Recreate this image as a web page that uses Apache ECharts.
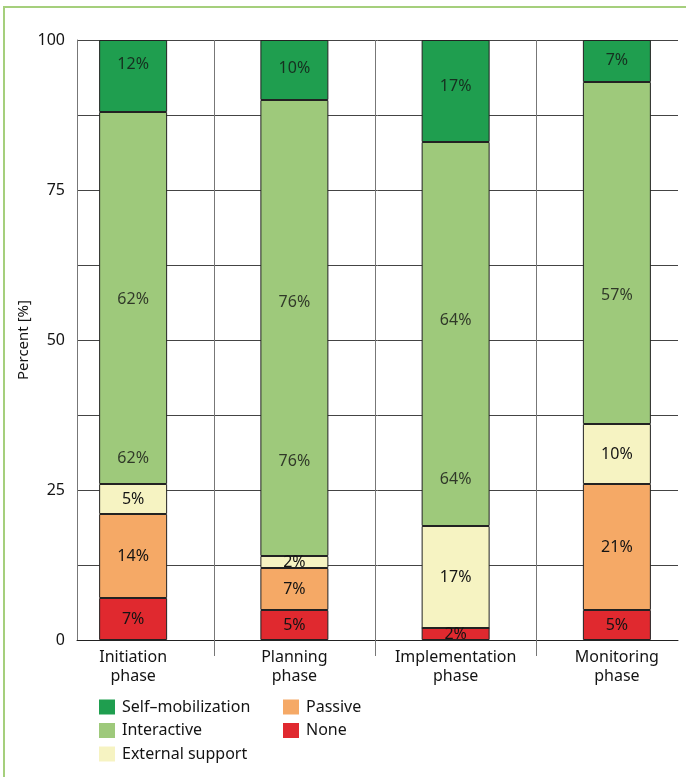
<!DOCTYPE html>
<html><head><meta charset="utf-8">
<script src="https://cdn.jsdelivr.net/npm/echarts@6/dist/echarts.min.js"></script>
<style>html,body{margin:0;padding:0;background:#fff}#c{width:686px;height:777px}</style>
</head><body><div id="c"></div>
<script>
const categories = ['Initiation\nphase', 'Planning\nphase', 'Implementation\nphase', 'Monitoring\nphase'];
const noneVals = [7, 5, 2, 5];
const passiveVals = [14, 7, 0, 21];
const externalVals = [5, 2, 17, 10];
const interactiveVals = [62, 76, 64, 57];
const selfVals = [12, 10, 17, 7];
// where the interactive and self-mobilization percentage labels sit on the value axis
const interactiveLabelUpperAt = [56.7, 56.3, 53.3, 57.5];
const interactiveLabelLowerAt = [30.3, 29.8, 26.8, null];
const selfLabelAt = [96, 95.2, 92.2, 96.6];
const yTickLabels = [0, 25, 50, 75, 100];

const FONT = 'Noto Sans';
const TXT = '#141414';
const floatingLabelSeries = ['Interactive', 'Self–mobilization'];

function barSeries(name, vals, color) {
  return {
    name: name, type: 'bar', stack: 'total', xAxisIndex: 1, yAxisIndex: 1,
    barWidth: 68, data: vals, silent: true,
    itemStyle: { color: color, borderColor: '#222', borderWidth: 1 },
    label: {
      show: !floatingLabelSeries.includes(name), position: 'inside', fontSize: 16, fontFamily: FONT, color: TXT,
      formatter: p => p.value > 0 ? p.value + '%' : ''
    },
    emphasis: { disabled: true }
  };
}

const labelData = [];
interactiveVals.forEach((v, i) => {
  labelData.push([i, interactiveLabelUpperAt[i], v]);
  if (interactiveLabelLowerAt[i] != null) labelData.push([i, interactiveLabelLowerAt[i], v]);
});
selfVals.forEach((v, i) => labelData.push([i, selfLabelAt[i], v]));

const chart = echarts.init(document.getElementById('c'), null, { renderer: 'canvas' });
chart.setOption({
  backgroundColor: '#fff',
  animation: false,
  textStyle: { fontFamily: FONT },
  graphic: [{
    type: 'rect', silent: true, z: 100,
    shape: { x: 4, y: 7, width: 760, height: 860 },
    style: { fill: 'none', stroke: '#a5cf7c', lineWidth: 2 }
  }],
  grid: [
    { left: 77, width: 601, top: 40, height: 600, outerBoundsMode: 'none', containLabel: false },
    { left: 52.5, width: 645, top: 40, height: 600, outerBoundsMode: 'none', containLabel: false }
  ],
  xAxis: [
    { gridIndex: 0, type: 'value', min: 0, max: 1,
      axisLine: { show: true, lineStyle: { color: '#222', width: 1 } },
      axisTick: { show: false }, axisLabel: { show: false }, splitLine: { show: false } },
    { gridIndex: 1, type: 'category', data: categories,
      axisLine: { show: false },
      axisTick: { show: true, interval: (i) => i > 0, length: 16, lineStyle: { color: '#777' } },
      splitLine: { show: true, interval: (i) => i > 0, lineStyle: { color: '#777' } },
      axisLabel: { fontSize: 16, lineHeight: 19, color: TXT, margin: 8, fontFamily: FONT } }
  ],
  yAxis: [
    { gridIndex: 0, type: 'value', min: 0, max: 100, interval: 12.5,
      axisLine: { show: true, lineStyle: { color: '#777' } },
      axisTick: { show: false },
      axisLabel: { formatter: v => yTickLabels.includes(v) ? String(v) : '', fontSize: 16, color: TXT, margin: 12, fontFamily: FONT },
      splitLine: { show: true, lineStyle: { color: '#444' } },
      name: 'Percent [%]', nameLocation: 'middle', nameGap: 46, nameMoveOverlap: false,
      nameTextStyle: { fontSize: 15, color: TXT, fontFamily: FONT } },
    { gridIndex: 1, type: 'value', min: 0, max: 100, show: false }
  ],
  legend: [
    { data: ['Self–mobilization', 'Interactive', 'External support'], orient: 'vertical',
      left: 99, top: 699, padding: 0, itemWidth: 16, itemHeight: 15, itemGap: 7.5,
      icon: 'rect', itemStyle: { borderWidth: 0 }, selectedMode: false,
      textStyle: { fontSize: 16, color: TXT, fontFamily: FONT, padding: [0, 0, 0, 2] } },
    { data: ['Passive', 'None'], orient: 'vertical',
      left: 283, top: 699, padding: 0, itemWidth: 16, itemHeight: 15, itemGap: 7.5,
      icon: 'rect', itemStyle: { borderWidth: 0 }, selectedMode: false,
      textStyle: { fontSize: 16, color: TXT, fontFamily: FONT, padding: [0, 0, 0, 2] } }
  ],
  series: [
    barSeries('None', noneVals, '#e0292f'),
    barSeries('Passive', passiveVals, '#f5a966'),
    barSeries('External support', externalVals, '#f6f3c2'),
    barSeries('Interactive', interactiveVals, '#9ec97b'),
    barSeries('Self–mobilization', selfVals, '#1f9e4f'),
    { name: 'Segment labels', type: 'scatter', xAxisIndex: 1, yAxisIndex: 1, z: 5,
      symbolSize: 1, silent: true, data: labelData,
      itemStyle: { color: 'rgba(0,0,0,0)' },
      label: { show: true, position: 'inside', fontSize: 16, fontFamily: FONT, color: TXT,
        formatter: p => p.value[2] + '%' },
      emphasis: { disabled: true } }
  ]
});
</script>
</body></html>
